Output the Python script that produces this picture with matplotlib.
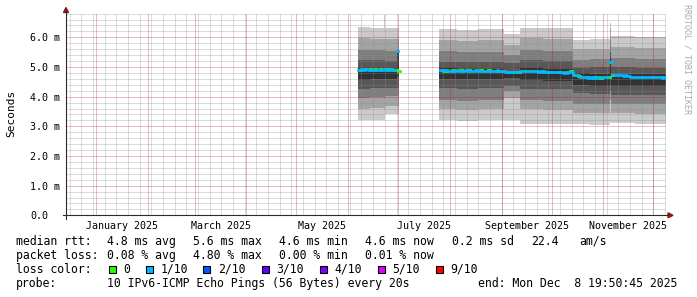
import matplotlib
matplotlib.use('Agg')
import matplotlib.pyplot as plt
import numpy as np
import pandas as pd
from matplotlib.patches import Rectangle, Polygon
from matplotlib.lines import Line2D

# ---------------- data ----------------
END_TIME = '2025-12-08 19:50:45'
SPAN_DAYS = 360

y_ticks = [0, 1, 2, 3, 4, 5, 6]
y_tick_labels = ['0.0', '1.0 m', '2.0 m', '3.0 m', '4.0 m', '5.0 m', '6.0 m']
x_label_months = ['2025-01-01', '2025-03-01', '2025-05-01',
                  '2025-07-01', '2025-09-01', '2025-11-01']
x_tick_labels = ['January 2025', 'March 2025', 'May 2025',
                 'July 2025', 'September 2025', 'November 2025']

# smoke blocks (sorted ping values p1..p10, in ms)
smoke_start = ['2025-06-06 18:00', '2025-06-14 00:00', '2025-06-22 12:00', '2025-06-23 06:00',
               '2025-06-30 06:00',
               '2025-07-25 14:00', '2025-08-05 00:00', '2025-08-18 00:00', '2025-09-02 06:00',
               '2025-09-12 06:00', '2025-09-26 00:00', '2025-10-14 00:00', '2025-10-24 00:00',
               '2025-11-04 18:00', '2025-11-05 18:00', '2025-11-20 00:00']
smoke_end = ['2025-06-14 00:00', '2025-06-22 12:00', '2025-06-23 06:00', '2025-06-30 06:00',
             '2025-07-01 14:00',
             '2025-08-05 00:00', '2025-08-18 00:00', '2025-09-02 06:00', '2025-09-12 06:00',
             '2025-09-26 00:00', '2025-10-14 00:00', '2025-10-24 00:00', '2025-11-04 18:00',
             '2025-11-05 18:00', '2025-11-20 00:00', '2025-12-08 14:00']
ping_p10 = [6.34, 6.31, 6.75, 6.30, 6.30, 6.28, 6.25, 6.27, 6.10, 6.33, 6.30, 5.92, 5.95, 6.50, 6.03, 6.00]
ping_p9 = [5.97, 5.95, 5.96, 5.95, 5.95, 5.92, 5.88, 5.90, 5.75, 5.97, 5.94, 5.60, 5.62, 6.30, 5.66, 5.64]
ping_p8 = [5.58, 5.56, 5.57, 5.55, 5.55, 5.53, 5.50, 5.52, 5.42, 5.58, 5.55, 5.25, 5.27, 5.90, 5.29, 5.27]
ping_p7 = [5.24, 5.22, 5.23, 5.20, 5.20, 5.18, 5.16, 5.17, 5.12, 5.24, 5.21, 4.98, 4.99, 5.50, 4.99, 4.97]
ping_p6 = [4.96, 4.95, 4.95, 4.95, 5.56, 4.96, 4.94, 4.95, 4.86, 4.96, 4.94, 4.79, 4.78, 5.30, 4.77, 4.75]
ping_p5 = [4.57, 4.59, 4.58, 4.60, 4.67, 4.61, 4.59, 4.60, 4.62, 4.55, 4.53, 4.39, 4.37, 4.70, 4.37, 4.35]
ping_p4 = [4.27, 4.29, 4.28, 4.30, 4.30, 4.29, 4.27, 4.28, 4.36, 4.27, 4.25, 4.11, 4.09, 4.40, 4.06, 4.04]
ping_p3 = [3.95, 3.98, 3.96, 4.02, 4.02, 3.90, 3.87, 3.88, 4.18, 3.90, 3.86, 3.77, 3.75, 4.20, 3.77, 3.75]
ping_p2 = [3.58, 3.62, 3.60, 3.70, 3.70, 3.58, 3.55, 3.57, 3.95, 3.58, 3.55, 3.46, 3.44, 3.90, 3.45, 3.43]
ping_p1 = [3.20, 3.23, 3.21, 3.43, 3.43, 3.21, 3.18, 3.20, 3.22, 3.09, 3.07, 3.07, 3.06, 3.14, 3.11, 3.09]
smoke_colors = ['#cacaca', '#a4a4a4', '#7e7e7e', '#585858', '#323232']

# daily median rtt (ms) and loss class (index into loss_colors)
median_a_start = '2025-06-07'
median_a = [4.90, 4.91, 4.93, 4.91, 4.94, 4.92, 4.90, 4.93, 4.91, 4.90, 4.92, 4.90, 4.91,
            4.93, 4.91, 4.95, 4.90, 4.92, 4.91, 4.93, 4.90, 4.91, 4.89, 5.55, 4.86]
loss_a = [1, 0, 1, 1, 0, 1, 1, 0, 1, 1, 0, 1, 1, 0, 1, 1, 1, 0, 1, 1, 0, 1, 0, 1, 0]

median_b_start = '2025-07-26'
median_b = [4.89, 4.88, 4.89, 4.88, 4.90, 4.88,
            4.88, 4.90, 4.88, 4.89, 4.88, 4.87, 4.89, 4.88, 4.88, 4.89,
            4.88, 4.90, 4.88, 4.87, 4.88, 4.89, 4.88, 4.87, 4.89, 4.88,
            4.88, 4.87, 4.88, 4.89, 4.88, 4.87, 4.88, 4.88, 4.89, 4.87, 4.88,
            4.87, 4.86, 4.83, 4.82, 4.83, 4.84, 4.83, 4.82, 4.84, 4.83,
            4.84, 4.86, 4.88, 4.87, 4.86, 4.87, 4.86, 4.85, 4.86, 4.85,
            4.86, 4.85, 4.84, 4.85, 4.84, 4.85, 4.84, 4.83, 4.84, 4.83,
            4.84, 4.83, 4.82, 4.83, 4.82, 4.83, 4.82, 4.81, 4.82, 4.81,
            4.82, 4.88, 4.84, 4.73, 4.72, 4.72, 4.70, 4.66, 4.65, 4.65,
            4.65, 4.64, 4.65, 4.64, 4.65, 4.64, 4.65, 4.64, 4.65, 4.64, 4.65,
            4.66, 4.65, 4.66, 4.67, 5.18, 4.73, 4.72, 4.73, 4.72, 4.72,
            4.73, 4.72, 4.71, 4.72, 4.71, 4.69, 4.68, 4.68, 4.67, 4.68,
            4.67, 4.67, 4.68, 4.67, 4.66, 4.67, 4.66, 4.67, 4.66, 4.66,
            4.66, 4.65, 4.66, 4.65, 4.65, 4.64, 4.65, 4.64]
loss_b = [1, 1, 1, 0, 1, 1,
          1, 0, 1, 1, 1, 1, 0, 1, 1, 1,
          1, 0, 1, 1, 1, 1, 1, 1, 0, 1,
          1, 1, 1, 0, 1, 1, 1, 1, 1, 1, 0,
          1, 1, 1, 0, 1, 0, 1, 1, 0, 1,
          0, 1, 1, 1, 1, 1, 1, 1, 1, 1,
          1, 1, 1, 1, 1, 1, 1, 1, 0, 1,
          1, 1, 1, 1, 0, 1, 1, 1, 1, 1,
          1, 0, 1, 1, 1, 1, 0, 1, 1, 1,
          1, 1, 1, 1, 1, 1, 0, 1, 1, 0, 1,
          1, 1, 1, 0, 1, 0, 1, 1, 1, 1,
          1, 1, 1, 1, 1, 1, 1, 1, 1, 1,
          1, 1, 1, 1, 1, 1, 1, 1, 1, 1,
          1, 1, 1, 1, 1, 1, 1, 1]

loss_colors = ['#26ff00', '#00b8ff', '#0059ff', '#5e00ff', '#7e00ff', '#dd00ff', '#ff0000']
loss_labels = ['0', '1/10', '2/10', '3/10', '4/10', '5/10', '9/10']

rtt_title = 'median rtt:'
rtt_stats = ['4.8 ms avg', '5.6 ms max', '4.6 ms min', '4.6 ms now', '0.2 ms sd', '22.4', 'am/s']
loss_title = 'packet loss:'
loss_stats = ['0.08 % avg', '4.80 % max', '0.00 % min', '0.01 % now']
color_title = 'loss color:'
probe_title = 'probe:'
probe_text = '10 IPv6-ICMP Echo Pings (56 Bytes) every 20s'
end_text = 'end: Mon Dec  8 19:50:45 2025'
y_label = 'Seconds'
watermark = 'RRDTOOL / TOBI OETIKER'

# ---------------- layout ----------------
W, H, DPI = 697, 297, 100
MONO = 'DejaVu Sans Mono'
plt.rcParams['font.family'] = [MONO, 'DejaVu Sans']


def fx(x):
    return x / W


def fy(y):
    return 1 - y / H


fig = plt.figure(figsize=(W / DPI, H / DPI), dpi=DPI, facecolor='white')
ax_left, ax_right, ax_top, ax_bottom = 66.0, 666.4, 13.33, 215.33
ax = fig.add_axes([fx(ax_left), fy(ax_bottom), (ax_right - ax_left) / W, (ax_bottom - ax_top) / H])
for s in ax.spines.values():
    s.set_visible(False)
ax.set_facecolor('white')

end_time = pd.Timestamp(END_TIME)
start_time = end_time - pd.Timedelta(days=SPAN_DAYS)
ax.set_xlim(start_time, end_time)
ax.set_ylim(0, 6.81)

# smoke
bands = [(ping_p1, ping_p10), (ping_p2, ping_p9), (ping_p3, ping_p8),
         (ping_p4, ping_p7), (ping_p5, ping_p6)]
for (lo_arr, hi_arr), col in zip(bands, smoke_colors):
    for s, e, lo, hi in zip(smoke_start, smoke_end, lo_arr, hi_arr):
        xs = pd.to_datetime([s, e])
        ax.fill_between(xs, [lo, lo], [hi, hi], color=col, linewidth=0,
                        antialiased=False, zorder=1)

# grid (dotted, semi-transparent like rrdtool)
dot = (0, (1, 1))
mondays = pd.date_range(start_time.normalize(), end_time, freq='W-MON')
months = pd.date_range('2024-12-01', end_time, freq='MS')
months = months[months > start_time]
GA = 0.3
ax.vlines(mondays, 0, 1, transform=ax.get_xaxis_transform(), colors='#8c8c8c',
          alpha=GA, linewidth=0.72, linestyles=dot, zorder=3, antialiased=False)
ax.vlines(months, 0, 1, transform=ax.get_xaxis_transform(), colors='#b01e1e',
          alpha=GA, linewidth=0.72, linestyles=dot, zorder=3, antialiased=False)
minor_y = [v for v in np.arange(0.2, 6.81, 0.2) if abs(v - round(v)) > 1e-6]
ax.hlines(minor_y, 0, 1, transform=ax.get_yaxis_transform(), colors='#8c8c8c',
          alpha=GA, linewidth=0.72, linestyles=dot, zorder=3, antialiased=False)
ax.hlines(y_ticks[1:], 0, 1, transform=ax.get_yaxis_transform(), colors='#b01e1e',
          alpha=GA, linewidth=0.72, linestyles=dot, zorder=3, antialiased=False)

# median lines: one line per loss class (drawn in class order), broken where the class changes
for start, vals, loss in [(median_a_start, median_a, loss_a), (median_b_start, median_b, loss_b)]:
    t = pd.date_range(start, periods=len(vals), freq='D')
    t_ext = t.append(pd.DatetimeIndex([min(t[-1] + pd.Timedelta(days=1), end_time)]))
    v = np.array(vals, dtype=float)
    lz = np.array(loss)
    for cls in sorted(set(loss)):
        vc = np.where(lz == cls, v, np.nan)
        vc_ext = np.append(vc, vc[-1])
        ax.step(t_ext, vc_ext, where='post', color=loss_colors[cls], linewidth=2.0,
                zorder=4 + cls * 0.1)

# ticks
ax.set_yticks(y_ticks)
ax.set_yticklabels(y_tick_labels)
ax.tick_params(axis='y', length=0, pad=(ax_left - 30) * 0.72, labelsize=7.2)
for lbl in ax.get_yticklabels():
    lbl.set_horizontalalignment('left')
mid = []
for m in x_label_months:
    ms = pd.Timestamp(m)
    me = ms + pd.offsets.MonthBegin(1)
    mid.append(ms + (me - ms) / 2)
ax.set_xticks(mid)
ax.set_xticklabels(x_tick_labels)
ax.tick_params(axis='x', length=0, pad=4.0, labelsize=7.2)

# axes lines and arrows
axis_col = '#2a2a2a'
arrow_col = '#8b1a1a'
fig.add_artist(Line2D([fx(63), fx(668)], [fy(ax_bottom), fy(ax_bottom)], color=axis_col,
                      linewidth=0.8, transform=fig.transFigure))
fig.add_artist(Line2D([fx(ax_left), fx(ax_left)], [fy(218.5), fy(11)], color=axis_col,
                      linewidth=0.8, transform=fig.transFigure))
fig.add_artist(Polygon([[fx(63.5), fy(12.5)], [fx(68.5), fy(12.5)], [fx(66), fy(7.5)]],
                       closed=True, color=arrow_col, transform=fig.transFigure))
fig.add_artist(Polygon([[fx(668), fy(212.8)], [fx(668), fy(217.8)], [fx(673), fy(215.3)]],
                       closed=True, color=arrow_col, transform=fig.transFigure))

# y label and watermark
fig.text(fx(11), fy(113.5), y_label, rotation=90, ha='center', va='center', fontsize=8.0)
fig.text(fx(687), fy(4), watermark, rotation=270, ha='center', va='top', fontsize=6.0,
         color='#aaaaaa')

# legend
LFS = 8.3
row_y = [244.7, 258.7, 273.0, 287.0]
fig.text(fx(16), fy(row_y[0]), rtt_title, fontsize=LFS, va='baseline')
for x, s in zip([107.3, 193.3, 279.3, 365.0, 452.0, 530.7, 579.3], rtt_stats):
    fig.text(fx(x), fy(row_y[0]), s, fontsize=LFS, va='baseline')
fig.text(fx(16), fy(row_y[1]), loss_title, fontsize=LFS, va='baseline')
for x, s in zip([107.3, 193.3, 279.3, 365.0], loss_stats):
    fig.text(fx(x), fy(row_y[1]), s, fontsize=LFS, va='baseline')
fig.text(fx(16), fy(row_y[2]), color_title, fontsize=LFS, va='baseline')
sq_x = [108.7, 145.7, 203.3, 261.7, 320.0, 377.7, 436.0]
for x, c, lab in zip(sq_x, loss_colors, loss_labels):
    fig.add_artist(Rectangle((fx(x), fy(272.7)), 7 / W, 7 / H, facecolor=c,
                             edgecolor='black', linewidth=0.8, transform=fig.transFigure))
    fig.text(fx(x + 14.5), fy(row_y[2]), lab, fontsize=LFS, va='baseline')
fig.text(fx(16), fy(row_y[3]), probe_title, fontsize=LFS, va='baseline')
fig.text(fx(107.3), fy(row_y[3]), probe_text, fontsize=LFS, va='baseline')
fig.text(fx(478.3), fy(row_y[3]), end_text, fontsize=LFS, va='baseline')

fig.savefig('out.png', dpi=DPI, facecolor='white')
